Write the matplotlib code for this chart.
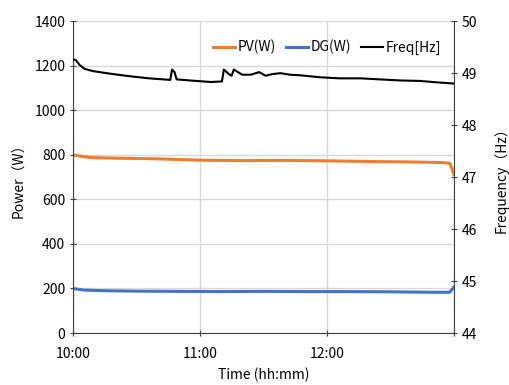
import matplotlib.pyplot as plt

plt.rcParams['font.family'] = ['Noto Sans CJK SC', 'DejaVu Sans']

# time in minutes after 10:00
pv_t = [0, 3, 8, 20, 40, 60, 80, 100, 120, 140, 160, 175, 178, 179, 180]
pv_w = [800, 795, 788, 785, 782, 776, 774, 775, 773, 770, 768, 765, 762, 740, 712]

dg_t = [0, 5, 15, 30, 50, 70, 90, 110, 130, 150, 170, 178, 180]
dg_w = [200, 193, 190, 188, 187, 186, 187, 186, 186, 185, 183, 183, 205]

fq_t = [0, 1.4, 3.3, 5.7, 9.4, 17.5, 27, 36, 46, 46.8, 48, 49, 55, 65, 70.4, 71.3,
        73.7, 75, 76, 78, 80, 84, 88, 91, 94, 98, 102.5, 107, 117, 126, 136, 145,
        154.5, 164, 173, 180]
fq_hz = [49.27, 49.25, 49.15, 49.08, 49.04, 48.99, 48.94, 48.90, 48.87, 49.07, 49.02,
         48.88, 48.86, 48.83, 48.84, 49.07, 48.98, 48.95, 49.07, 49.02, 48.97, 48.97,
         49.02, 48.95, 48.98, 49.00, 48.97, 48.96, 48.92, 48.90, 48.90, 48.88, 48.86,
         48.85, 48.82, 48.80]

hour_ticks = [0, 60, 120, 180]
hour_labels = ['10:00', '11:00', '12:00', '']

fig = plt.figure(figsize=(5.1, 3.85), dpi=100)
ax = fig.add_axes([0.143, 0.135, 0.747, 0.81])
ax2 = ax.twinx()

l1, = ax.plot(pv_t, pv_w, color='#ED7D31', lw=2.2, label='PV(W)')
l2, = ax.plot(dg_t, dg_w, color='#4472C4', lw=2.2, label='DG(W)')
l3, = ax2.plot(fq_t, fq_hz, color='black', lw=1.5, label='Freq[Hz]')

ax.set_xlim(0, 180)
ax.set_ylim(0, 1400)
ax.set_yticks(range(0, 1401, 200))
ax.set_xticks(hour_ticks)
ax.set_xticklabels(hour_labels)
ax2.set_ylim(44, 50)
ax2.set_yticks(range(44, 51))

ax.grid(True, color='#D9D9D9', lw=1)
ax.set_axisbelow(True)

for a in (ax, ax2):
    for s in a.spines.values():
        s.set_visible(False)
    a.tick_params(labelsize=10, length=4, color='#404040', direction='inout')
ax.tick_params(axis='x', pad=8)
ax.spines['left'].set_visible(True)
ax.spines['bottom'].set_visible(True)
ax2.spines['right'].set_visible(True)
ax.spines['left'].set_color('#404040')
ax.spines['bottom'].set_color('#404040')
ax2.spines['right'].set_color('#404040')

ax.set_ylabel('Power（W）', fontsize=10, labelpad=6)
ax2.set_ylabel('Frequency（Hz）', fontsize=10, labelpad=12)
ax.set_xlabel('Time (hh:mm)', fontsize=10, labelpad=5)

ax.legend(handles=[l1, l2, l3], loc='upper right', ncol=3, frameon=False,
          fontsize=10, handlelength=1.6, columnspacing=0.7, handletextpad=0.2,
          bbox_to_anchor=(1.0, 0.98))

fig.savefig('out.png', dpi=100)
